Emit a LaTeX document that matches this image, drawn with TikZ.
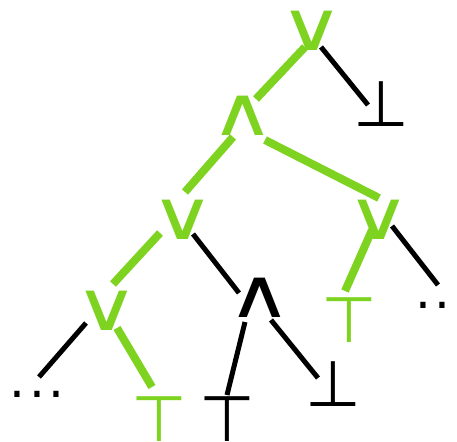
\documentclass[tikz,border=0pt]{standalone}
\usepackage{graphicx}
\usepackage{fontspec}
\newfontfamily\symfont{DejaVu Sans}
\usetikzlibrary{calc}
\definecolor{litgreen}{HTML}{7ED321}
\newcommand{\wide}[1]{\scalebox{1.3}[1]{#1}}

\begin{document}
\begin{tikzpicture}[x=1pt, y=-1pt,
  sym/.style={font=\symfont\fontsize{68}{68}\selectfont, inner sep=0pt, text=#1},
  sym/.default=black,
  cst/.style={sym=#1, font=\symfont\fontsize{64}{64}\selectfont},
  cst/.default=black,
  dots/.style={font=\symfont\fontsize{50}{50}\selectfont, inner sep=0pt},
  hot/.style={line width=8pt, litgreen},
  cold/.style={line width=5pt, black}]
\useasboundingbox (0,0) rectangle (457,441);
\clip (0,0) rectangle (457,441);
% formula tree, highlighted branch in green
\node[sym=litgreen] (orA) at (311.5,31) {\wide{∨}};
\node[cst] (botA) at (381,104) {⊥};
\node[sym=litgreen] (andA) at (243,115.5) {\wide{∧}};
\node[sym=litgreen] (orB) at (182.5,220) {\wide{∨}};
\node[sym=litgreen] (orC) at (378.5,220) {\wide{∨}};
\node[sym=litgreen] (orD) at (107,311) {\wide{∨}};
\node[dots] (dotsA) at (37,394) {.\kern3.6pt.\kern3.6pt.};
\node[cst=litgreen] (topA) at (159,419.5) {⊤};
\node[sym] (andB) at (259.5,297.5) {\wide{∧}};
\node[cst=litgreen] (topB) at (349,320) {⊤};
\node[dots] (dotsB) at (442.5,305) {.\kern3.6pt.\kern3.6pt.};
\node[cst] (topC) at (227,419) {⊤};
\node[cst] (botB) at (333,384.5) {⊥};
\foreach \a/\ax/\ay/\b/\bx/\by/\s in {
  orA/-6.5/16/andA/13/-16.5/hot, orA/9.5/16/botA/-13/1/cold,
  andA/-10/21.5/orB/2.5/-28/hot, andA/22/24.5/orC/0.5/-22/hot,
  orB/-22.5/13/orD/6/-27/hot, orB/10.5/14/andB/-20.5/-4.5/cold,
  orC/-6.5/10/topB/-4/-29/hot, orC/13.5/6/dotsB/-4.5/-20/cold,
  orD/-21/12/dotsA/2/-17/cold, orD/10/17/topA/-7/-32.5/hot,
  andB/-14.5/24.5/topC/0/-24/cold, andB/11.5/22.5/botB/-15/-6.5/cold}
  \draw[\s] ($(\a)+(\ax,\ay)$) -- ($(\b)+(\bx,\by)$);
\end{tikzpicture}
\end{document}
